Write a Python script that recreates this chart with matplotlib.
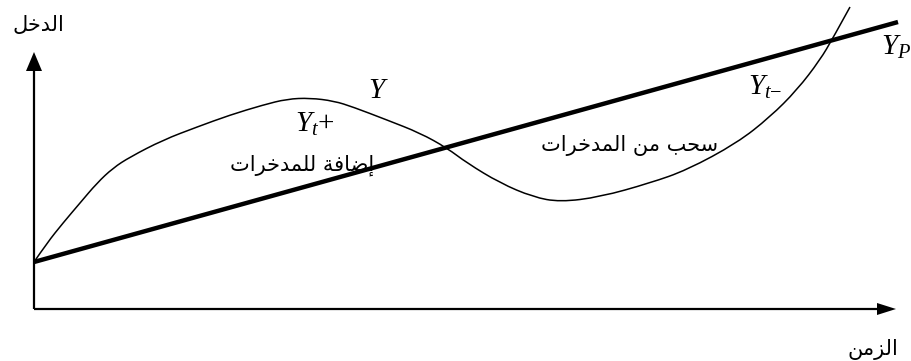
import matplotlib.pyplot as plt
from matplotlib.path import Path
from matplotlib.patches import PathPatch

# conceptual diagram: income (Y) around permanent income (Yp) over time
plt.rcParams['mathtext.fontset'] = 'custom'
plt.rcParams['mathtext.it'] = 'Liberation Serif:italic'
plt.rcParams['mathtext.rm'] = 'Liberation Serif'

# actual income curve Y
t_y = [0, 13, 29, 46, 63, 79, 96, 129, 163, 196, 229, 253, 276, 300, 319, 353,
       386, 413, 433, 466, 499, 526, 566, 616, 653, 703, 736, 763, 786, 799, 816]
y_vals = [47, 66, 86, 106, 126, 141, 152, 169, 182, 194, 204, 210, 211, 208, 202,
          189, 176, 161, 146, 126, 112, 107, 112, 126, 139, 166, 192, 219, 249, 271, 302]

# permanent income line Yp
t_p = [0, 864]
yp_vals = [47, 287]

y_label = 'الدخل'
x_label = 'الزمن'
add_label = 'إضافة للمدخرات'
draw_label = 'سحب من المدخرات'

# minimal arabic shaping (matplotlib has no text shaping / bidi)
FORMS = {
    'ا': ('\uFE8D', '\uFE8E', None, None),
    'إ': ('\uFE87', '\uFE88', None, None),
    'ب': ('\uFE8F', '\uFE90', '\uFE91', '\uFE92'),
    'ة': ('\uFE93', '\uFE94', None, None),
    'ت': ('\uFE95', '\uFE96', '\uFE97', '\uFE98'),
    'ح': ('\uFEA1', '\uFEA2', '\uFEA3', '\uFEA4'),
    'خ': ('\uFEA5', '\uFEA6', '\uFEA7', '\uFEA8'),
    'د': ('\uFEA9', '\uFEAA', None, None),
    'ر': ('\uFEAD', '\uFEAE', None, None),
    'ز': ('\uFEAF', '\uFEB0', None, None),
    'س': ('\uFEB1', '\uFEB2', '\uFEB3', '\uFEB4'),
    'ض': ('\uFEBD', '\uFEBE', '\uFEBF', '\uFEC0'),
    'ف': ('\uFED1', '\uFED2', '\uFED3', '\uFED4'),
    'ل': ('\uFEDD', '\uFEDE', '\uFEDF', '\uFEE0'),
    'م': ('\uFEE1', '\uFEE2', '\uFEE3', '\uFEE4'),
    'ن': ('\uFEE5', '\uFEE6', '\uFEE7', '\uFEE8'),
}


def shape(text):
    out = []
    for i, c in enumerate(text):
        if c not in FORMS:
            out.append(c)
            continue
        prev = text[i - 1] if i > 0 else ''
        nxt = text[i + 1] if i + 1 < len(text) else ''
        joins_prev = prev in FORMS and FORMS[prev][2] is not None
        joins_next = nxt in FORMS and FORMS[c][2] is not None
        iso, fin, ini, med = FORMS[c]
        if joins_prev and joins_next:
            out.append(med)
        elif joins_prev:
            out.append(fin)
        elif joins_next:
            out.append(ini)
        else:
            out.append(iso)
    return ''.join(out)[::-1]


def smooth_path(xs, ys):
    # quadratic bezier through midpoints, points act as control points
    pts = list(zip(xs, ys))
    verts = [pts[0]]
    codes = [Path.MOVETO]
    for i in range(1, len(pts) - 1):
        mid = ((pts[i][0] + pts[i + 1][0]) / 2, (pts[i][1] + pts[i + 1][1]) / 2)
        if i == len(pts) - 2:
            mid = pts[-1]
        verts += [pts[i], mid]
        codes += [Path.CURVE3, Path.CURVE3]
    return Path(verts, codes)


fig = plt.figure(figsize=(9.12, 3.61), dpi=100)
ax = fig.add_axes([0, 0, 1, 1])
ax.set_xlim(-34, 878)
ax.set_ylim(-52, 309)
ax.axis('off')

# axes with arrows
ax.plot([0, 0], [0, 245], color='black', lw=1.6, solid_capstyle='butt')
ax.plot([0, 850], [0, 0], color='black', lw=1.6, solid_capstyle='butt')
ax.arrow(0, 235, 0, 22, width=0, head_width=16, head_length=19,
         length_includes_head=True, color='black', lw=0)
ax.arrow(840, 0, 22, 0, width=0, head_width=12, head_length=19,
         length_includes_head=True, color='black', lw=0)

ax.plot(t_p, yp_vals, color='black', lw=3.2, solid_capstyle='butt')
ax.add_patch(PathPatch(smooth_path(t_y, y_vals), facecolor='none',
                       edgecolor='black', lw=1.1))

arab = dict(family='DejaVu Sans', fontsize=15, ha='center', va='center')
ax.text(4, 284, shape(y_label), **arab)
ax.text(839, -41, shape(x_label), **arab)
ax.text(268, 144, shape(add_label), **arab)
ax.text(596, 164, shape(draw_label), **arab)

ax.text(344, 219, r'$Y$', fontsize=21, ha='center', va='center')
ax.text(261, 185, r'$Y_t\mathrm{+}$', fontsize=21, ha='left', va='center')
ax.text(714, 222, r'$Y_{t\mathrm{-}}$', fontsize=21, ha='left', va='center')
ax.text(847, 262, r'$Y_P$', fontsize=21, ha='left', va='center')

fig.savefig('out.png', dpi=100)
